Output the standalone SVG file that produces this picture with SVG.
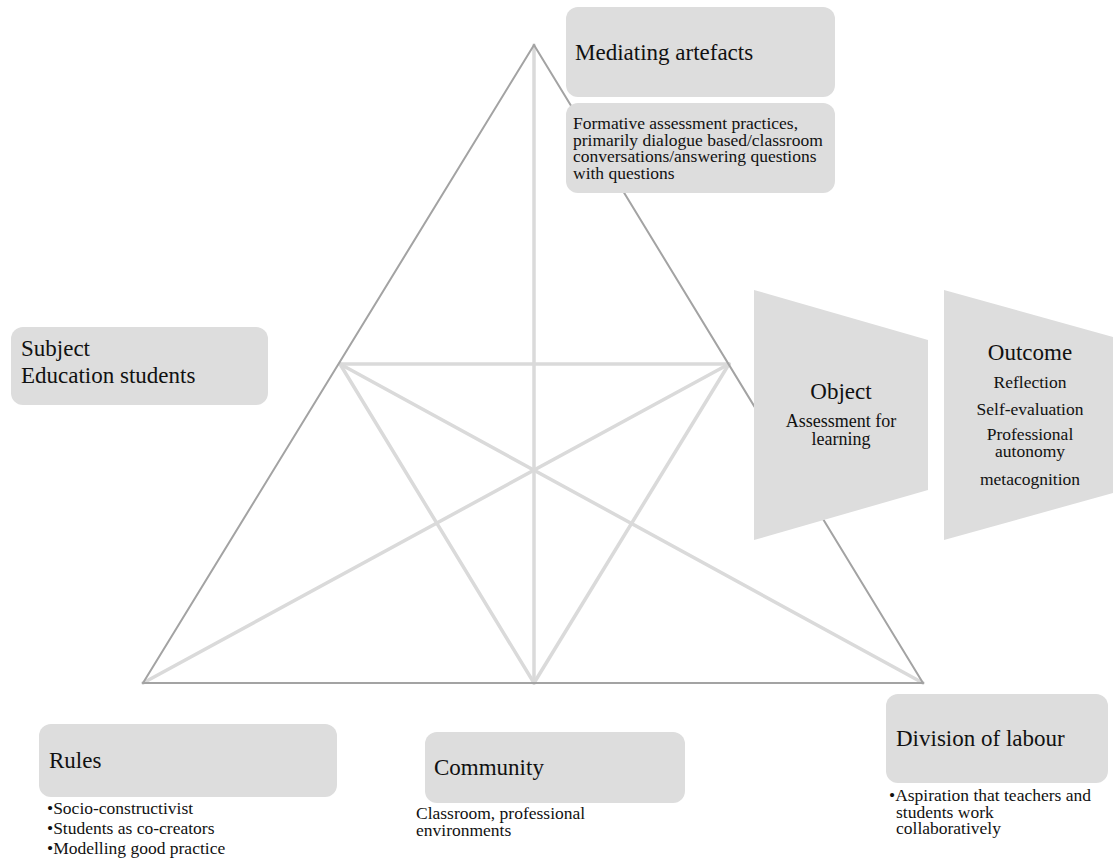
<svg xmlns="http://www.w3.org/2000/svg" width="1113" height="863" viewBox="0 0 1113 863">
<style>
.box{fill:#dddddd;}
.outer{stroke:#a3a3a3;stroke-width:2;fill:none;stroke-linecap:round;}
.inner{stroke:#dadada;stroke-width:3.5;fill:none;stroke-linecap:round;}
.t text{font-family:'Liberation Serif','Times New Roman',serif;fill:#111;}
.h{font-size:23px;}
.s{font-size:17.5px;}
.o{font-size:18px;}
.c{text-anchor:middle;}
</style>
<rect width="1113" height="863" fill="#ffffff"/>
<g id="connectors">
<line class="inner" x1="534" y1="45" x2="534" y2="683"/>
<line class="inner" x1="340" y1="364" x2="729" y2="364"/>
<line class="inner" x1="340" y1="364" x2="923" y2="683"/>
<line class="inner" x1="729" y1="364" x2="143" y2="683"/>
<line class="inner" x1="340" y1="364" x2="534" y2="683"/>
<line class="inner" x1="729" y1="364" x2="534" y2="683"/>
<line class="outer" x1="534" y1="45" x2="143" y2="683"/>
<line class="outer" x1="534" y1="45" x2="923" y2="683"/>
<line class="outer" x1="143" y1="683" x2="923" y2="683"/>
</g>
<g id="mediating-artefacts" class="t">
<rect class="box" x="566" y="7" width="269" height="90" rx="12"/>
<text class="h" x="575" y="60">Mediating artefacts</text>
</g>
<g id="mediating-artefacts-detail" class="t">
<rect class="box" x="566" y="103" width="269" height="90" rx="12"/>
<text class="s" x="573" y="129">Formative assessment practices,</text>
<text class="s" x="573" y="146">primarily dialogue based/classroom</text>
<text class="s" x="573" y="162">conversations/answering questions</text>
<text class="s" x="573" y="179">with questions</text>
</g>
<g id="subject" class="t">
<rect class="box" x="11" y="327" width="257" height="78" rx="12"/>
<text class="h" x="21" y="356">Subject</text>
<text class="h" x="21" y="383">Education students</text>
</g>
<g id="object" class="t">
<polygon class="box" points="754,290 928,340 928,490 754,540"/>
<text class="h c" x="841" y="399">Object</text>
<text class="o c" x="841" y="427">Assessment for</text>
<text class="o c" x="841" y="445">learning</text>
</g>
<g id="outcome" class="t">
<polygon class="box" points="944,290 1113,337 1113,493 944,540"/>
<text class="h c" x="1030" y="360">Outcome</text>
<text class="s c" x="1030" y="388">Reflection</text>
<text class="s c" x="1030" y="415">Self-evaluation</text>
<text class="s c" x="1030" y="440">Professional</text>
<text class="s c" x="1030" y="457">autonomy</text>
<text class="s c" x="1030" y="485">metacognition</text>
</g>
<g id="rules" class="t">
<rect class="box" x="39" y="724" width="298" height="73" rx="12"/>
<text class="h" x="49" y="768">Rules</text>
<text class="s" x="47" y="814">•Socio-constructivist</text>
<text class="s" x="47" y="834">•Students as co-creators</text>
<text class="s" x="47" y="854">•Modelling good practice</text>
</g>
<g id="community" class="t">
<rect class="box" x="425" y="732" width="260" height="71" rx="12"/>
<text class="h" x="434" y="775">Community</text>
<text class="s" x="416" y="819">Classroom, professional</text>
<text class="s" x="416" y="836">environments</text>
</g>
<g id="division-of-labour" class="t">
<rect class="box" x="886" y="694" width="222" height="89" rx="12"/>
<text class="h" x="896" y="746">Division of labour</text>
<text class="s" x="889" y="801">•Aspiration that teachers and</text>
<text class="s" x="896" y="818">students work</text>
<text class="s" x="896" y="834">collaboratively</text>
</g>
</svg>
